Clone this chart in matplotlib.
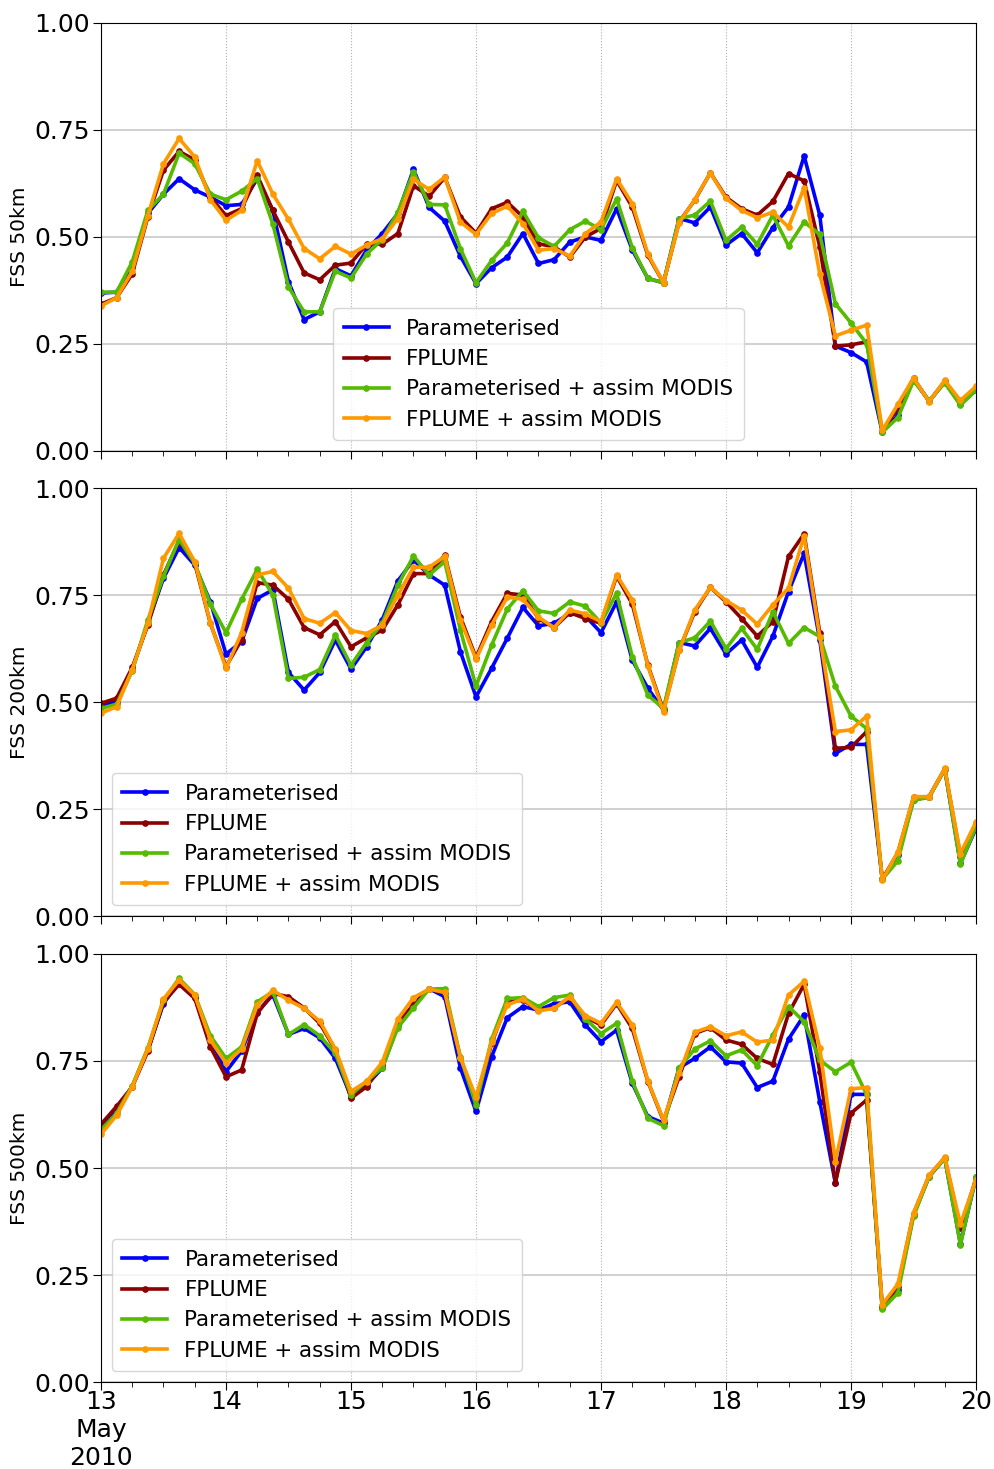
import numpy as np
import pandas as pd
import matplotlib
matplotlib.use("Agg")
import matplotlib.pyplot as plt
import matplotlib.dates as mdates

times = pd.date_range("2010-05-13", periods=57, freq="3h")
labels = ["Parameterised", "FPLUME", "Parameterised + assim MODIS", "FPLUME + assim MODIS"]
colors = ["#0000ff", "#8b0000", "#55bb00", "#ff9900"]

# FSS 50km
p50 = [0.369, 0.371, 0.43, 0.555, 0.60, 0.636, 0.61, 0.593, 0.573, 0.576, 0.636, 0.562, 0.395,
       0.307, 0.325, 0.426, 0.409, 0.47, 0.508, 0.555, 0.658, 0.569, 0.537, 0.455, 0.391, 0.428,
       0.453, 0.508, 0.438, 0.447, 0.488, 0.50, 0.492, 0.566, 0.47, 0.403, 0.393, 0.543, 0.533,
       0.57, 0.481, 0.508, 0.463, 0.522, 0.57, 0.689, 0.551, 0.245, 0.23, 0.208, 0.044, 0.083,
       0.167, 0.116, 0.161, 0.109, 0.142]
f50 = [0.343, 0.358, 0.414, 0.547, 0.656, 0.70, 0.68, 0.593, 0.55, 0.566, 0.644, 0.562, 0.488,
       0.416, 0.40, 0.434, 0.439, 0.483, 0.483, 0.508, 0.62, 0.595, 0.639, 0.547, 0.509, 0.566,
       0.581, 0.547, 0.484, 0.477, 0.453, 0.50, 0.52, 0.632, 0.57, 0.457, 0.393, 0.535, 0.586,
       0.65, 0.593, 0.566, 0.551, 0.583, 0.648, 0.631, 0.477, 0.245, 0.248, 0.255, 0.046, 0.10,
       0.17, 0.116, 0.163, 0.115, 0.148]
pm50 = [0.371, 0.371, 0.442, 0.562, 0.60, 0.696, 0.671, 0.60, 0.587, 0.607, 0.636, 0.53, 0.383,
        0.325, 0.325, 0.42, 0.404, 0.46, 0.494, 0.558, 0.652, 0.576, 0.575, 0.473, 0.393, 0.445,
        0.486, 0.56, 0.498, 0.478, 0.517, 0.537, 0.517, 0.589, 0.475, 0.403, 0.393, 0.543, 0.551,
        0.584, 0.492, 0.523, 0.483, 0.551, 0.479, 0.535, 0.506, 0.344, 0.299, 0.251, 0.044, 0.078,
        0.164, 0.118, 0.159, 0.107, 0.142]
fm50 = [0.339, 0.358, 0.42, 0.55, 0.671, 0.73, 0.687, 0.587, 0.539, 0.562, 0.678, 0.60, 0.541,
        0.473, 0.449, 0.478, 0.46, 0.481, 0.496, 0.543, 0.635, 0.611, 0.64, 0.535, 0.506, 0.555,
        0.572, 0.531, 0.469, 0.473, 0.455, 0.508, 0.535, 0.636, 0.578, 0.46, 0.393, 0.533, 0.587,
        0.65, 0.59, 0.562, 0.545, 0.558, 0.523, 0.615, 0.413, 0.269, 0.282, 0.294, 0.048, 0.109,
        0.171, 0.115, 0.165, 0.118, 0.151]

# FSS 200km
p200 = [0.493, 0.501, 0.576, 0.685, 0.789, 0.861, 0.82, 0.734, 0.612, 0.641, 0.742, 0.762, 0.569,
        0.528, 0.569, 0.645, 0.577, 0.629, 0.692, 0.783, 0.832, 0.797, 0.773, 0.618, 0.512, 0.579,
        0.649, 0.721, 0.678, 0.684, 0.707, 0.701, 0.662, 0.734, 0.598, 0.532, 0.481, 0.639, 0.631,
        0.672, 0.612, 0.645, 0.581, 0.654, 0.758, 0.847, 0.645, 0.38, 0.401, 0.401, 0.086, 0.143,
        0.271, 0.279, 0.343, 0.123, 0.205]
f200 = [0.497, 0.509, 0.581, 0.68, 0.797, 0.877, 0.824, 0.684, 0.583, 0.646, 0.779, 0.773, 0.74,
        0.674, 0.657, 0.688, 0.629, 0.65, 0.668, 0.727, 0.80, 0.80, 0.843, 0.699, 0.604, 0.688,
        0.754, 0.75, 0.695, 0.674, 0.709, 0.695, 0.684, 0.794, 0.729, 0.586, 0.481, 0.621, 0.711,
        0.768, 0.734, 0.695, 0.654, 0.688, 0.84, 0.893, 0.662, 0.392, 0.394, 0.431, 0.086, 0.148,
        0.277, 0.279, 0.344, 0.14, 0.215]
pm200 = [0.485, 0.495, 0.573, 0.692, 0.794, 0.88, 0.824, 0.729, 0.662, 0.74, 0.81, 0.75, 0.555,
         0.558, 0.576, 0.657, 0.586, 0.639, 0.684, 0.773, 0.841, 0.797, 0.828, 0.668, 0.537, 0.633,
         0.717, 0.76, 0.713, 0.707, 0.734, 0.724, 0.685, 0.754, 0.606, 0.516, 0.485, 0.639, 0.65,
         0.689, 0.625, 0.672, 0.623, 0.711, 0.637, 0.674, 0.653, 0.537, 0.467, 0.438, 0.086, 0.129,
         0.271, 0.277, 0.343, 0.121, 0.209]
fm200 = [0.474, 0.489, 0.576, 0.684, 0.836, 0.894, 0.828, 0.685, 0.579, 0.662, 0.797, 0.805, 0.766,
         0.695, 0.684, 0.709, 0.667, 0.66, 0.68, 0.75, 0.815, 0.815, 0.84, 0.692, 0.60, 0.68,
         0.745, 0.74, 0.698, 0.674, 0.715, 0.706, 0.688, 0.797, 0.738, 0.584, 0.477, 0.621, 0.715,
         0.768, 0.737, 0.715, 0.682, 0.727, 0.766, 0.888, 0.653, 0.431, 0.435, 0.467, 0.084, 0.15,
         0.279, 0.279, 0.345, 0.146, 0.22]

# FSS 500km
p500 = [0.593, 0.636, 0.69, 0.776, 0.884, 0.936, 0.90, 0.801, 0.725, 0.773, 0.865, 0.904, 0.812,
        0.826, 0.804, 0.756, 0.667, 0.694, 0.733, 0.834, 0.881, 0.919, 0.90, 0.734, 0.632, 0.76,
        0.851, 0.877, 0.869, 0.884, 0.888, 0.834, 0.795, 0.822, 0.698, 0.62, 0.605, 0.734, 0.756,
        0.783, 0.748, 0.745, 0.688, 0.703, 0.801, 0.857, 0.655, 0.465, 0.672, 0.672, 0.172, 0.216,
        0.391, 0.48, 0.523, 0.323, 0.478]
f500 = [0.602, 0.644, 0.69, 0.773, 0.887, 0.929, 0.896, 0.783, 0.713, 0.729, 0.861, 0.908, 0.90,
        0.874, 0.838, 0.776, 0.663, 0.69, 0.741, 0.838, 0.882, 0.918, 0.908, 0.756, 0.659, 0.791,
        0.888, 0.892, 0.869, 0.874, 0.898, 0.853, 0.834, 0.884, 0.826, 0.702, 0.61, 0.713, 0.814,
        0.828, 0.799, 0.789, 0.756, 0.742, 0.861, 0.929, 0.725, 0.465, 0.628, 0.659, 0.177, 0.222,
        0.393, 0.482, 0.524, 0.36, 0.475]
pm500 = [0.589, 0.628, 0.692, 0.781, 0.892, 0.943, 0.905, 0.809, 0.756, 0.783, 0.888, 0.912, 0.812,
         0.835, 0.809, 0.768, 0.671, 0.703, 0.734, 0.828, 0.874, 0.918, 0.919, 0.76, 0.647, 0.801,
         0.896, 0.898, 0.877, 0.898, 0.904, 0.849, 0.814, 0.838, 0.703, 0.616, 0.599, 0.734, 0.778,
         0.797, 0.762, 0.776, 0.739, 0.811, 0.877, 0.842, 0.752, 0.725, 0.747, 0.672, 0.17, 0.208,
         0.387, 0.48, 0.522, 0.321, 0.48]
fm500 = [0.579, 0.623, 0.69, 0.778, 0.895, 0.939, 0.904, 0.799, 0.745, 0.778, 0.881, 0.915, 0.892,
         0.873, 0.843, 0.778, 0.679, 0.702, 0.747, 0.848, 0.898, 0.918, 0.91, 0.758, 0.665, 0.795,
         0.881, 0.895, 0.867, 0.873, 0.90, 0.856, 0.838, 0.887, 0.834, 0.703, 0.612, 0.721, 0.817,
         0.83, 0.809, 0.818, 0.794, 0.799, 0.904, 0.936, 0.781, 0.515, 0.685, 0.688, 0.181, 0.229,
         0.395, 0.483, 0.525, 0.369, 0.473]

panels = [("FSS 50km", [p50, f50, pm50, fm50], "lower center"),
          ("FSS 200km", [p200, f200, pm200, fm200], "lower left"),
          ("FSS 500km", [p500, f500, pm500, fm500], "lower left")]

fig = plt.figure(figsize=(9.94, 14.69), dpi=100)
bottoms = [0.693, 0.3764, 0.0592]
day_ticks = pd.date_range("2010-05-13", "2010-05-20", freq="D")
day_labels = ["13\nMay\n2010"] + [str(d.day) for d in day_ticks[1:]]

for (ylab, series, loc), b in zip(panels, bottoms):
    ax = fig.add_axes([0.1016, b, 0.8803, 0.2914])
    for vals, lab, c in zip(series, labels, colors):
        ax.plot(times, vals, "-o", color=c, lw=2.6, ms=3.8, label=lab)
    ax.set_ylim(0, 1)
    ax.set_yticks([0, 0.25, 0.5, 0.75, 1.0])
    ax.set_yticklabels(["0.00", "0.25", "0.50", "0.75", "1.00"])
    ax.set_xlim(times[0], times[-1])
    ax.set_xticks(day_ticks)
    ax.xaxis.set_minor_locator(mdates.HourLocator(byhour=[6, 12, 18]))
    if b == bottoms[-1]:
        ax.set_xticklabels(day_labels)
    else:
        ax.set_xticklabels([])
    ax.tick_params(axis="both", which="major", labelsize=18, length=6, pad=2)
    ax.tick_params(axis="x", which="major", pad=0)
    ax.tick_params(axis="x", which="minor", length=3.5)
    ax.grid(axis="y", color="#c8c8c8", lw=1.2)
    ax.grid(axis="x", color="#b0b0b0", ls=":", lw=0.8)
    ax.set_axisbelow(True)
    ax.set_ylabel(ylab, fontsize=14.5)
    ax.yaxis.set_label_coords(-0.0823, 0.5)
    ax.legend(loc=loc, fontsize=15.4, handlelength=2.1, borderpad=0.5, labelspacing=0.48)

fig.savefig("out.png", dpi=100)
